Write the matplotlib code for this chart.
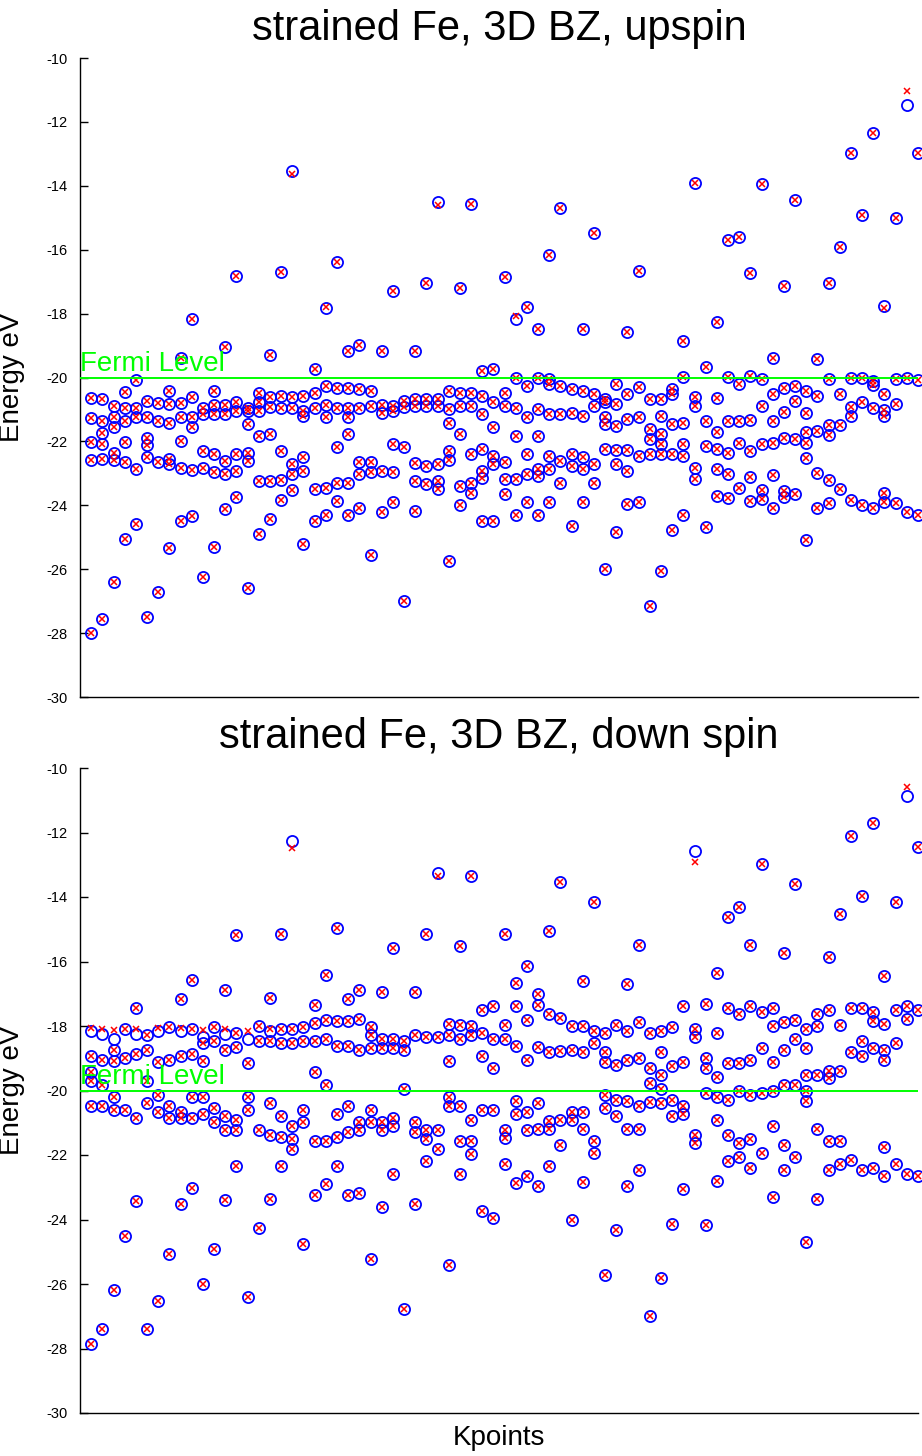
import matplotlib
matplotlib.use("Agg")
import matplotlib.pyplot as plt

# ---------------- data: energies (eV) per k-point, upspin ----------------
up_k01_20 = [
    [-20.65, -21.28, -22.02, -22.57, -28.0],
    [-20.67, -21.36, -21.75, -22.09, -22.56, -27.56],
    [-20.9, -21.24, -21.56, -22.35, -22.58, -26.41],
    [-20.44, -20.94, -21.36, -22.03, -22.66, -25.05],
    [-20.07, -20.94, -21.25, -22.87, -24.58],
    [-20.75, -21.25, -21.9, -22.1, -22.5, -27.5],
    [-20.81, -21.36, -22.63, -26.7],
    [-20.42, -20.83, -21.41, -22.56, -22.71, -25.35],
    [-19.38, -20.81, -21.23, -21.98, -22.82, -24.48],
    [-18.16, -20.6, -21.24, -21.56, -22.9, -24.35],
    [-20.94, -21.13, -22.3, -22.82, -26.25],
    [-20.42, -20.86, -21.15, -22.4, -22.97, -25.29],
    [-19.06, -20.86, -21.13, -22.61, -23.03, -24.13],
    [-16.81, -20.78, -21.04, -22.4, -22.94, -23.75],
    [-20.94, -21.04, -21.46, -22.35, -22.61, -26.6],
    [-20.47, -20.78, -21.04, -21.83, -23.23, -24.9],
    [-19.3, -20.6, -20.92, -21.77, -23.23, -24.43],
    [-16.7, -20.57, -20.94, -22.3, -23.21, -23.84],
    [-13.53, -20.6, -20.94, -22.71, -23.03, -23.52],
    [-20.57, -21.04, -21.2, -22.5, -22.92, -25.2],
]
up_k21_40 = [
    [-19.73, -20.47, -20.94, -23.5, -24.48],
    [-17.84, -20.26, -20.86, -21.25, -23.45, -24.3],
    [-16.4, -20.33, -20.94, -22.19, -23.29, -23.86],
    [-19.18, -20.33, -20.94, -21.25, -21.77, -23.29, -24.3],
    [-18.97, -20.36, -20.94, -22.66, -23.03, -24.1],
    [-20.42, -20.89, -22.66, -22.97, -25.55],
    [-19.16, -20.85, -21.1, -22.92, -24.2],
    [-17.28, -20.9, -21.05, -22.09, -22.97, -23.9],
    [-20.75, -20.92, -22.19, -26.99],
    [-19.16, -20.68, -20.89, -22.69, -23.23, -24.17],
    [-17.03, -20.68, -20.89, -22.76, -23.34],
    [-14.5, -20.68, -20.89, -22.71, -23.23, -23.5],
    [-20.42, -20.99, -21.41, -22.3, -22.59, -25.73],
    [-17.19, -20.47, -20.89, -21.77, -23.39, -24.0],
    [-14.56, -20.5, -20.89, -22.4, -23.29, -23.6],
    [-19.8, -20.57, -21.15, -22.24, -22.92, -23.13, -24.5],
    [-19.72, -20.78, -21.56, -22.45, -22.71, -24.5],
    [-16.87, -20.47, -20.89, -22.66, -23.18, -23.65],
    [-18.16, -20.0, -20.94, -21.83, -23.18, -24.3],
    [-17.8, -20.26, -21.25, -22.4, -23.03, -23.91],
]
up_k41_60 = [
    [-18.48, -20.02, -20.99, -21.83, -22.87, -23.08, -24.3],
    [-16.17, -20.05, -20.21, -21.15, -22.45, -22.87, -23.9],
    [-14.69, -20.26, -21.15, -22.61, -23.29],
    [-20.36, -21.1, -22.4, -22.76, -24.64],
    [-18.48, -20.42, -21.2, -22.5, -22.87, -23.91],
    [-15.48, -20.52, -20.89, -22.71, -23.29],
    [-20.68, -20.78, -21.25, -21.46, -22.24, -25.99],
    [-20.21, -20.83, -21.51, -22.27, -22.71, -24.84],
    [-18.57, -20.52, -21.3, -22.27, -22.92, -23.95],
    [-16.68, -20.31, -21.25, -22.45, -23.91],
    [-20.68, -21.62, -21.93, -22.4, -27.15],
    [-20.68, -21.2, -21.77, -22.09, -22.4, -26.06],
    [-20.37, -20.52, -21.46, -22.4, -24.77],
    [-18.86, -19.98, -21.41, -22.09, -22.45, -24.3],
    [-13.92, -20.6, -20.89, -22.82, -23.18],
    [-19.67, -21.36, -22.14, -24.68],
    [-18.26, -20.63, -21.72, -22.24, -22.87, -23.71],
    [-15.69, -19.98, -21.36, -22.35, -23.03, -23.76],
    [-15.59, -20.21, -21.36, -22.04, -23.45],
    [-16.74, -19.95, -21.33, -22.3, -23.1, -23.85],
]
up_k61_75 = [
    [-13.94, -20.06, -20.9, -22.08, -23.52, -23.81],
    [-19.38, -20.52, -21.36, -22.05, -23.05, -24.07],
    [-17.13, -20.32, -21.07, -21.9, -23.55, -23.74],
    [-14.46, -20.27, -20.73, -21.94, -23.64],
    [-20.42, -21.1, -21.7, -22.05, -22.51, -25.1],
    [-19.42, -20.57, -21.68, -23.0, -24.1],
    [-17.03, -20.05, -21.5, -21.8, -23.21, -23.92],
    [-15.91, -20.52, -21.48, -23.5],
    [-12.98, -20.03, -20.93, -21.2, -23.84],
    [-14.92, -20.01, -20.76, -23.98],
    [-12.35, -20.12, -20.25, -20.96, -24.1],
    [-17.77, -20.52, -21.02, -21.19, -23.62, -23.9],
    [-15.01, -20.06, -20.84, -23.93],
    [-11.48, -20.0, -24.2],
    [-12.98, -20.08, -24.3],
]

# ---------------- data: energies (eV) per k-point, down spin ----------------
lo_k01_20 = [
    [-18.16, -18.93, -19.44, -19.7, -20.47, -27.87],
    [-18.26, -19.06, -19.83, -20.47, -27.4],
    [-18.39, -18.73, -19.08, -20.21, -20.6, -26.19],
    [-18.09, -18.99, -20.6, -24.52],
    [-17.45, -18.26, -18.86, -20.85, -23.42],
    [-18.29, -18.73, -19.7, -20.4, -27.38],
    [-18.16, -19.12, -20.15, -20.66, -26.53],
    [-18.03, -19.06, -20.47, -20.85, -25.07],
    [-17.15, -18.16, -18.93, -20.66, -20.85, -23.51],
    [-16.58, -18.09, -18.86, -20.21, -20.85, -23.01],
    [-18.35, -18.54, -19.08, -20.21, -20.73, -25.99],
    [-18.03, -18.48, -20.53, -20.98, -24.9],
    [-16.87, -18.26, -18.73, -20.79, -21.24, -23.4],
    [-15.18, -18.22, -18.64, -20.92, -21.24, -22.33],
    [-18.41, -19.16, -20.21, -20.6, -26.4],
    [-18.0, -18.48, -21.24, -24.26],
    [-17.13, -18.16, -18.48, -20.4, -21.37, -23.36],
    [-15.14, -18.09, -18.52, -20.79, -21.43, -22.33],
    [-12.27, -18.09, -18.52, -21.11, -21.5, -21.8],
    [-18.03, -18.48, -20.6, -20.98, -24.77],
]
lo_k21_40 = [
    [-17.36, -17.9, -18.48, -19.42, -21.56, -23.23],
    [-16.42, -17.8, -18.41, -19.83, -21.56, -22.91],
    [-14.97, -17.84, -18.61, -20.73, -21.43, -22.33],
    [-17.15, -17.84, -18.61, -20.47, -21.3, -23.23],
    [-16.87, -17.77, -18.73, -20.98, -21.24, -23.17],
    [-18.03, -18.29, -18.67, -20.6, -20.98, -25.22],
    [-16.94, -18.41, -18.67, -20.98, -21.24, -23.62],
    [-15.59, -18.41, -18.67, -20.85, -21.09, -22.59],
    [-18.48, -18.73, -19.96, -26.79],
    [-16.94, -18.29, -20.98, -21.3, -23.53],
    [-15.14, -18.35, -21.24, -21.5, -22.2],
    [-13.25, -18.35, -21.24, -21.82],
    [-17.93, -18.29, -19.08, -20.21, -20.47, -25.41],
    [-15.52, -17.96, -18.39, -20.47, -21.56, -22.59],
    [-13.34, -18.0, -18.29, -20.92, -21.56, -21.98],
    [-17.51, -18.22, -18.93, -20.6, -23.74],
    [-17.39, -18.39, -19.31, -20.6, -23.94],
    [-15.14, -17.96, -18.41, -21.24, -21.47, -22.29],
    [-16.68, -17.39, -18.61, -20.34, -20.73, -22.88],
    [-16.14, -17.8, -19.06, -20.66, -21.24, -22.65],
]
lo_k41_60 = [
    [-17.0, -17.36, -18.64, -20.4, -21.18, -22.97],
    [-15.05, -17.64, -18.8, -20.96, -21.18, -22.33],
    [-13.53, -17.75, -18.77, -20.92, -21.69],
    [-18.0, -18.73, -20.66, -20.92, -24.0],
    [-16.61, -18.0, -18.8, -20.66, -21.18, -22.84],
    [-14.15, -18.16, -18.54, -21.56, -21.95],
    [-18.22, -18.8, -19.12, -20.15, -20.53, -25.73],
    [-17.96, -19.21, -20.28, -20.79, -24.32],
    [-16.7, -18.16, -19.06, -20.34, -21.18, -22.97],
    [-15.5, -17.87, -18.99, -20.47, -21.18, -22.46],
    [-18.22, -19.31, -19.76, -20.37, -26.99],
    [-18.16, -18.8, -19.51, -19.96, -20.4, -25.8],
    [-18.03, -19.25, -20.28, -20.79, -24.13],
    [-17.39, -19.12, -20.47, -20.73, -23.06],
    [-12.57, -18.09, -18.35, -21.37, -21.62],
    [-17.32, -18.99, -19.31, -20.08, -24.17],
    [-16.36, -18.22, -19.57, -20.21, -20.92, -22.81],
    [-14.62, -17.45, -19.16, -20.28, -21.37, -22.2],
    [-14.3, -17.64, -19.16, -20.02, -21.62, -22.05],
    [-15.48, -17.39, -19.06, -20.15, -21.5, -22.4],
]
lo_k61_75 = [
    [-12.98, -17.58, -18.67, -20.08, -21.95],
    [-17.45, -18.0, -19.12, -20.02, -21.11, -23.3],
    [-15.74, -17.87, -18.73, -19.83, -21.69, -22.46],
    [-13.6, -17.8, -18.41, -19.83, -22.07],
    [-18.09, -18.67, -19.51, -20.02, -20.34, -24.71],
    [-17.62, -18.0, -19.51, -21.18, -23.36],
    [-15.87, -17.51, -19.38, -19.6, -21.56, -22.46],
    [-14.52, -17.96, -19.38, -21.56, -22.27],
    [-12.12, -17.45, -18.8, -22.14],
    [-13.98, -17.45, -18.48, -18.93, -22.46],
    [-11.7, -17.58, -17.85, -18.67, -22.4],
    [-16.45, -17.93, -18.73, -19.06, -21.75, -22.65],
    [-14.15, -17.51, -18.54, -22.27],
    [-10.86, -17.39, -17.77, -22.59],
    [-12.44, -17.51, -22.65],
]

# red crosses (second calculation): equal to the circles except these
# (k-point, circle value, cross value)
up_red_moves = [(19, -13.53, -13.62), (32, -14.5, -14.6), (74, -11.48, -11.03),
                (22, -17.84, -17.78), (39, -18.16, -18.08), (72, -17.77, -17.82)]
lo_red_moves = [(19, -12.27, -12.48), (55, -12.57, -12.92), (74, -10.86, -10.58),
                (32, -13.25, -13.36), (1, -18.16, -18.05), (2, -18.26, -18.08),
                (3, -18.39, -18.12), (5, -18.26, -18.1), (7, -18.16, -18.05),
                (11, -18.35, -18.12), (13, -18.26, -18.1), (15, -18.41, -18.15),
                (17, -18.16, -18.08), (9, -18.16, -18.06)]

fermi_level = -20.0
y_ticks = [-30, -28, -26, -24, -22, -20, -18, -16, -14, -12, -10]
titles = ["strained Fe, 3D BZ, upspin", "strained Fe, 3D BZ, down spin"]

# ---------------- plotting ----------------
plt.rcParams['font.family'] = ['Liberation Sans', 'DejaVu Sans']
plt.rcParams['axes.unicode_minus'] = False

W, H = 922, 1456
fig = plt.figure(figsize=(W / 100, H / 100), dpi=100)


def flatten(blocks):
    ks, es = [], []
    k = 1
    for block in blocks:
        for col in block:
            for e in col:
                ks.append(k)
                es.append(e)
            k += 1
    return ks, es


def red_values(ks, es, moves):
    rk, re_ = list(ks), list(es)
    for (kk, blue, red) in moves:
        for i in range(len(rk)):
            if rk[i] == kk and abs(re_[i] - blue) < 1e-6:
                re_[i] = red
                break
    return rk, re_


panels = [
    ([up_k01_20, up_k21_40, up_k41_60, up_k61_75], up_red_moves, (58, 697), titles[0], 29),
    ([lo_k01_20, lo_k21_40, lo_k41_60, lo_k61_75], lo_red_moves, (768, 1413), titles[1], 737),
]

ax_left, ax_right = 80, 918
for blocks, moves, (top, bot), title, title_y in panels:
    ax = fig.add_axes([ax_left / W, (H - bot) / H, (ax_right - ax_left) / W, (bot - top) / H])
    ks, es = flatten(blocks)
    rk, re_ = red_values(ks, es, moves)
    ax.plot(ks, es, linestyle='none', marker='o', markersize=8.0, markerfacecolor='none',
            markeredgecolor='#0000ff', markeredgewidth=1.3, clip_on=False, zorder=3)
    ax.plot(rk, re_, linestyle='none', marker='x', markersize=4.6,
            markeredgecolor='#ff0000', markeredgewidth=1.1, clip_on=False, zorder=4)
    ax.axhline(fermi_level, color='#00ff00', linewidth=1.4, zorder=5)
    ax.text(0.0, fermi_level + 0.02, "Fermi Level", color='#00ff00', fontsize=20,
            ha='left', va='bottom', zorder=6)
    ax.set_xlim(0, 75)
    ax.set_ylim(-30, -10)
    ax.set_yticks(y_ticks)
    ax.set_yticklabels([str(t) for t in y_ticks])
    ax.set_xticks([])
    ax.tick_params(axis='y', direction='in', length=6, width=1, labelsize=10.5, pad=9)
    for s in ('top', 'right'):
        ax.spines[s].set_visible(False)
    for s in ('left', 'bottom'):
        ax.spines[s].set_linewidth(1.0)
    ax.set_ylabel("Energy eV", fontsize=20)
    ax.yaxis.set_label_coords(-55 / (ax_right - ax_left), 0.5)
    fig.text((ax_left + ax_right) / 2 / W, 1 - title_y / H, title, fontsize=30,
             ha='center', va='center')
    last_ax = ax

last_ax.set_xlabel("Kpoints", fontsize=20)
last_ax.xaxis.set_label_coords(0.5, -25 / (1413 - 768))
last_ax.xaxis.label.set_va('center')

fig.savefig("out.png", dpi=100)
